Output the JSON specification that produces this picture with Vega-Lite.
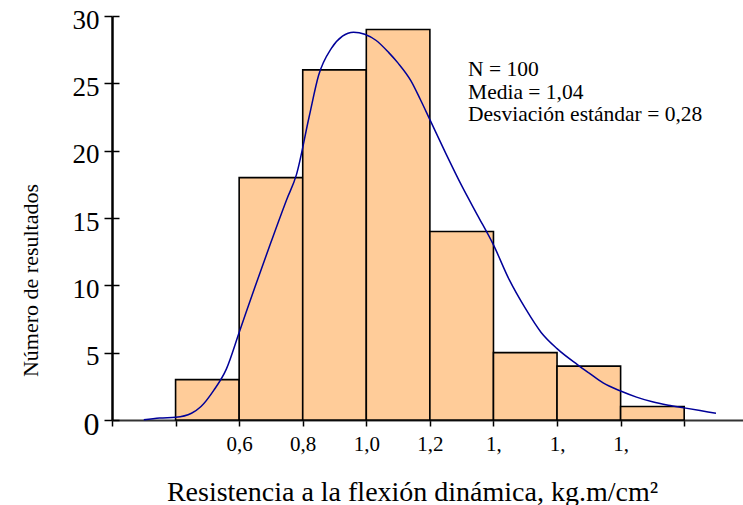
{
  "$schema": "https://vega.github.io/schema/vega-lite/v6.json",
  "width": 631,
  "height": 404,
  "autosize": "none",
  "padding": {"left": 112, "top": 16, "right": 0, "bottom": 85},
  "background": "white",
  "config": {
    "view": {"stroke": null},
    "font": "Liberation Serif",
    "text": {"font": "Liberation Serif"},
    "axis": {"labelFont": "Liberation Serif", "titleFont": "Liberation Serif", "labelColor": "black", "titleColor": "black", "titleFontWeight": "normal", "grid": false}
  },
  "datasets": {
    "bars": [
      {"start": 0.4, "end": 0.6, "count": 3},
      {"start": 0.6, "end": 0.8, "count": 18},
      {"start": 0.8, "end": 1.0, "count": 26},
      {"start": 1.0, "end": 1.2, "count": 29},
      {"start": 1.2, "end": 1.4, "count": 14},
      {"start": 1.4, "end": 1.6, "count": 5},
      {"start": 1.6, "end": 1.8, "count": 4},
      {"start": 1.8, "end": 2.0, "count": 1}
    ],
    "curve": [
      {"x": 0.30, "y": 0.02}, {"x": 0.35, "y": 0.15}, {"x": 0.40, "y": 0.2}, {"x": 0.45, "y": 0.5},
      {"x": 0.48, "y": 1.0}, {"x": 0.52, "y": 2.2}, {"x": 0.56, "y": 3.8}, {"x": 0.60, "y": 6.5},
      {"x": 0.65, "y": 9.9}, {"x": 0.70, "y": 13.2}, {"x": 0.75, "y": 16.4}, {"x": 0.78, "y": 18.2},
      {"x": 0.82, "y": 22.5}, {"x": 0.85, "y": 25.6}, {"x": 0.89, "y": 27.6}, {"x": 0.925, "y": 28.5},
      {"x": 0.96, "y": 28.8}, {"x": 0.995, "y": 28.65}, {"x": 1.03, "y": 28.2}, {"x": 1.07, "y": 27.3},
      {"x": 1.10, "y": 26.5}, {"x": 1.14, "y": 25.2}, {"x": 1.17, "y": 23.8}, {"x": 1.20, "y": 22.3},
      {"x": 1.25, "y": 19.8}, {"x": 1.30, "y": 17.4}, {"x": 1.35, "y": 15.2}, {"x": 1.40, "y": 13.0},
      {"x": 1.45, "y": 10.4}, {"x": 1.50, "y": 8.3}, {"x": 1.55, "y": 6.5}, {"x": 1.60, "y": 5.3},
      {"x": 1.665, "y": 4.1}, {"x": 1.70, "y": 3.5}, {"x": 1.745, "y": 2.75}, {"x": 1.80, "y": 2.15},
      {"x": 1.85, "y": 1.7}, {"x": 1.90, "y": 1.35}, {"x": 1.95, "y": 1.1}, {"x": 2.00, "y": 0.9},
      {"x": 2.05, "y": 0.7}, {"x": 2.10, "y": 0.5}
    ],
    "notes": [
      {"x": 1.32, "y": 25.54, "text": "N = 100"},
      {"x": 1.32, "y": 23.84, "text": "Media = 1,04"},
      {"x": 1.32, "y": 22.2, "text": "Desviación estándar = 0,28"}
    ]
  },
  "resolve": {"axis": {"y": "independent"}},
  "layer": [
    {
      "mark": {"type": "rule", "color": "#999999", "strokeWidth": 2},
      "encoding": {"y": {"datum": 30, "type": "quantitative", "scale": {"domain": [0, 30], "nice": false},
        "axis": {"orient": "left", "values": [0, 5, 10, 15, 20, 25, 30], "labels": false, "domain": false, "title": null, "tickSize": -7, "tickColor": "black", "tickWidth": 1.5}}}
    },
    {
      "data": {"name": "bars"},
      "mark": {"type": "rect", "fill": "#FFCC99", "stroke": "black", "strokeWidth": 1.6},
      "encoding": {
        "x": {
          "field": "start", "type": "quantitative",
          "scale": {"domain": [0.2, 2.185], "nice": false, "zero": false},
          "axis": {
            "values": [0.2, 0.4, 0.6, 0.8, 1.0, 1.2, 1.4, 1.6, 1.8, 2.0],
            "labelExpr": "datum.value < 0.5 || datum.value > 1.9 ? '' : (datum.value > 1.3 ? '1,' : replace(format(datum.value, '.1f'), '.', ','))",
            "labelFont": "Liberation Serif",
            "labelFontSize": 21,
            "labelPadding": 7,
            "tickSize": 6,
            "tickColor": "black",
            "tickWidth": 1.5,
            "domainColor": "#333333",
            "domainWidth": 2,
            "title": "Resistencia a la flexión dinámica, kg.m/cm²",
            "titleFont": "Liberation Serif",
            "titleFontSize": 28,
            "titleX": 300,
            "titleY": 80,
            "titleBaseline": "alphabetic",
            "titleAnchor": "middle"
          }
        },
        "x2": {"field": "end"},
        "y": {
          "field": "count", "type": "quantitative",
          "scale": {"domain": [0, 30], "nice": false},
          "axis": {
            "orient": "left",
            "values": [0, 5, 10, 15, 20, 25, 30],
            "labelFont": "Liberation Serif",
            "labelFontSize": {"condition": {"test": "datum.value === 0", "value": 32}, "value": 27},
            "labelOffset": 4,
            "labelPadding": 5,
            "tickSize": 8,
            "tickColor": "black",
            "tickWidth": 1.5,
            "domainColor": "black",
            "domainWidth": 2.5,
            "title": "Número de resultados",
            "titleFont": "Liberation Serif",
            "titleFontSize": 22,
            "titleX": -75,
            "titleY": 264,
            "titleBaseline": "alphabetic",
            "titleAngle": -90,
            "titleAnchor": "middle"
          }
        },
        "y2": {"datum": 0}
      }
    },
    {
      "data": {"name": "curve"},
      "mark": {"type": "line", "color": "#000099", "strokeWidth": 1.5, "interpolate": "monotone"},
      "encoding": {
        "x": {"field": "x", "type": "quantitative"},
        "y": {"field": "y", "type": "quantitative", "axis": null}
      }
    },
    {
      "data": {"name": "notes"},
      "mark": {"type": "text", "align": "left", "baseline": "alphabetic", "font": "Liberation Serif", "fontSize": 21.5, "color": "black"},
      "encoding": {
        "x": {"field": "x", "type": "quantitative"},
        "y": {"field": "y", "type": "quantitative", "axis": null},
        "text": {"field": "text"}
      }
    }
  ]
}
